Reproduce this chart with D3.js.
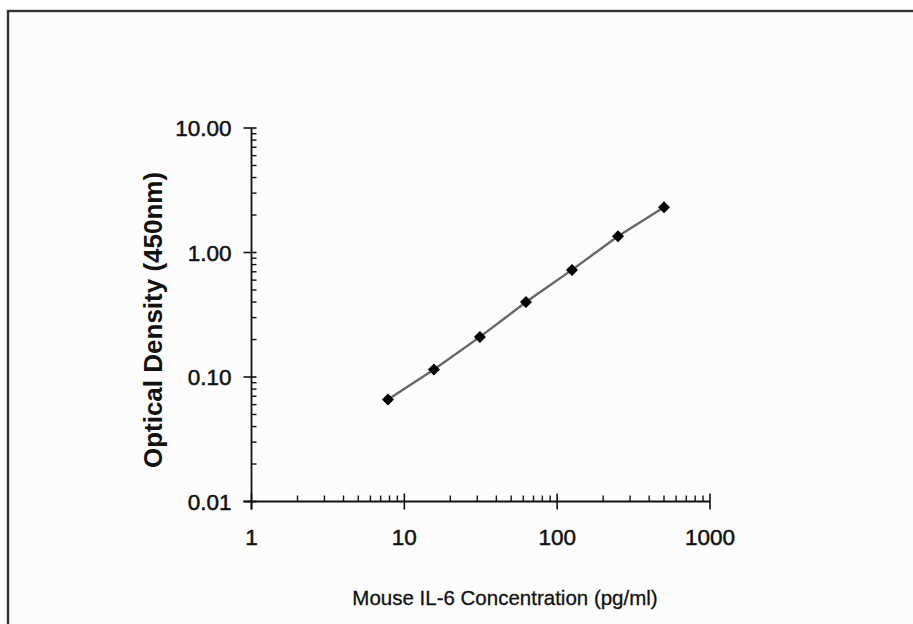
<!DOCTYPE html>
<html><head><meta charset="utf-8">
<script src="https://cdn.jsdelivr.net/npm/d3@7"></script>
<style>
html,body{margin:0;padding:0;background:#fff;}
svg{display:block;font-family:"Liberation Sans",Arial,sans-serif;}
</style></head><body>
<svg id="c" width="913" height="624"></svg>
<script>
const concentrations = [7.8125, 15.625, 31.25, 62.5, 125, 250, 500];
const opticalDensity = [0.066, 0.115, 0.21, 0.40, 0.725, 1.35, 2.31];
const xTickValues = [1, 10, 100, 1000];
const xTickLabels = ["1", "10", "100", "1000"];
const yTickValues = [0.01, 0.1, 1, 10];
const yTickLabels = ["0.01", "0.10", "1.00", "10.00"];
const xTitle = "Mouse IL-6 Concentration (pg/ml)";
const yTitle = "Optical Density (450nm)";

const svg = d3.select("#c");
svg.append("rect").attr("x",8).attr("y",11).attr("width",1000).attr("height",1000)
  .attr("fill","#fcfcfc").attr("stroke","#333").attr("stroke-width",2.4);

const x = d3.scaleLog().domain([1,1000]).range([251.5,710]);
const y = d3.scaleLog().domain([0.01,10]).range([501.5,128]);

const xMinor = [], yMinor = [];
[1,10,100].forEach(d=>{for(let k=2;k<=9;k++) xMinor.push(d*k);});
[0.01,0.1,1].forEach(d=>{for(let k=2;k<=9;k++) yMinor.push(d*k);});

const axisColor = "#111";
svg.append("line").attr("x1",x(1)).attr("x2",x(1)).attr("y1",y(10)).attr("y2",y(0.01)+8)
  .attr("stroke",axisColor).attr("stroke-width",1.8);
svg.append("line").attr("x1",x(1)-8).attr("x2",x(1000)).attr("y1",y(0.01)).attr("y2",y(0.01))
  .attr("stroke",axisColor).attr("stroke-width",1.8);

svg.selectAll(".ymaj").data(yTickValues).join("line")
  .attr("x1",x(1)-8).attr("x2",x(1)+5).attr("y1",d=>y(d)).attr("y2",d=>y(d))
  .attr("stroke",axisColor).attr("stroke-width",1.6);
svg.selectAll(".ymin").data(yMinor).join("line")
  .attr("x1",x(1)).attr("x2",x(1)+5).attr("y1",d=>y(d)).attr("y2",d=>y(d))
  .attr("stroke",axisColor).attr("stroke-width",1.4);
svg.selectAll(".xmaj").data(xTickValues).join("line")
  .attr("x1",d=>x(d)).attr("x2",d=>x(d)).attr("y1",y(0.01)-8).attr("y2",y(0.01)+8)
  .attr("stroke",axisColor).attr("stroke-width",1.6);
svg.selectAll(".xmin").data(xMinor).join("line")
  .attr("x1",d=>x(d)).attr("x2",d=>x(d)).attr("y1",y(0.01)-6).attr("y2",y(0.01))
  .attr("stroke",axisColor).attr("stroke-width",1.4);

svg.selectAll(".yl").data(yTickValues).join("text")
  .attr("x",x(1)-20).attr("y",d=>y(d)).attr("dy","0.36em")
  .attr("text-anchor","end").attr("font-size",22.5).attr("fill","#111")
  .attr("stroke","#111").attr("stroke-width",0.5)
  .text((d,i)=>yTickLabels[i]);
svg.selectAll(".xl").data(xTickValues).join("text")
  .attr("x",d=>x(d)).attr("y",545)
  .attr("text-anchor","middle").attr("font-size",22.5).attr("fill","#111")
  .attr("stroke","#111").attr("stroke-width",0.5)
  .text((d,i)=>xTickLabels[i]);

svg.append("text").attr("x",505).attr("y",605).attr("text-anchor","middle")
  .attr("font-size",20.5).attr("fill","#111").attr("stroke","#111").attr("stroke-width",0.3)
  .text(xTitle);
svg.append("text").attr("transform","translate(162,320) rotate(-90)")
  .attr("text-anchor","middle").attr("font-size",26).attr("font-weight","bold")
  .attr("fill","#111").text(yTitle);

const pts = concentrations.map((c,i)=>[c,opticalDensity[i]]);
svg.append("path").datum(pts)
  .attr("d",d3.line().x(d=>x(d[0])).y(d=>y(d[1])))
  .attr("fill","none").attr("stroke","#666").attr("stroke-width",2.4);
svg.selectAll(".pt").data(pts).join("path")
  .attr("d",d3.symbol(d3.symbolSquare,72)())
  .attr("transform",d=>`translate(${x(d[0])},${y(d[1])}) rotate(45)`)
  .attr("fill","#000");
</script></body></html>
